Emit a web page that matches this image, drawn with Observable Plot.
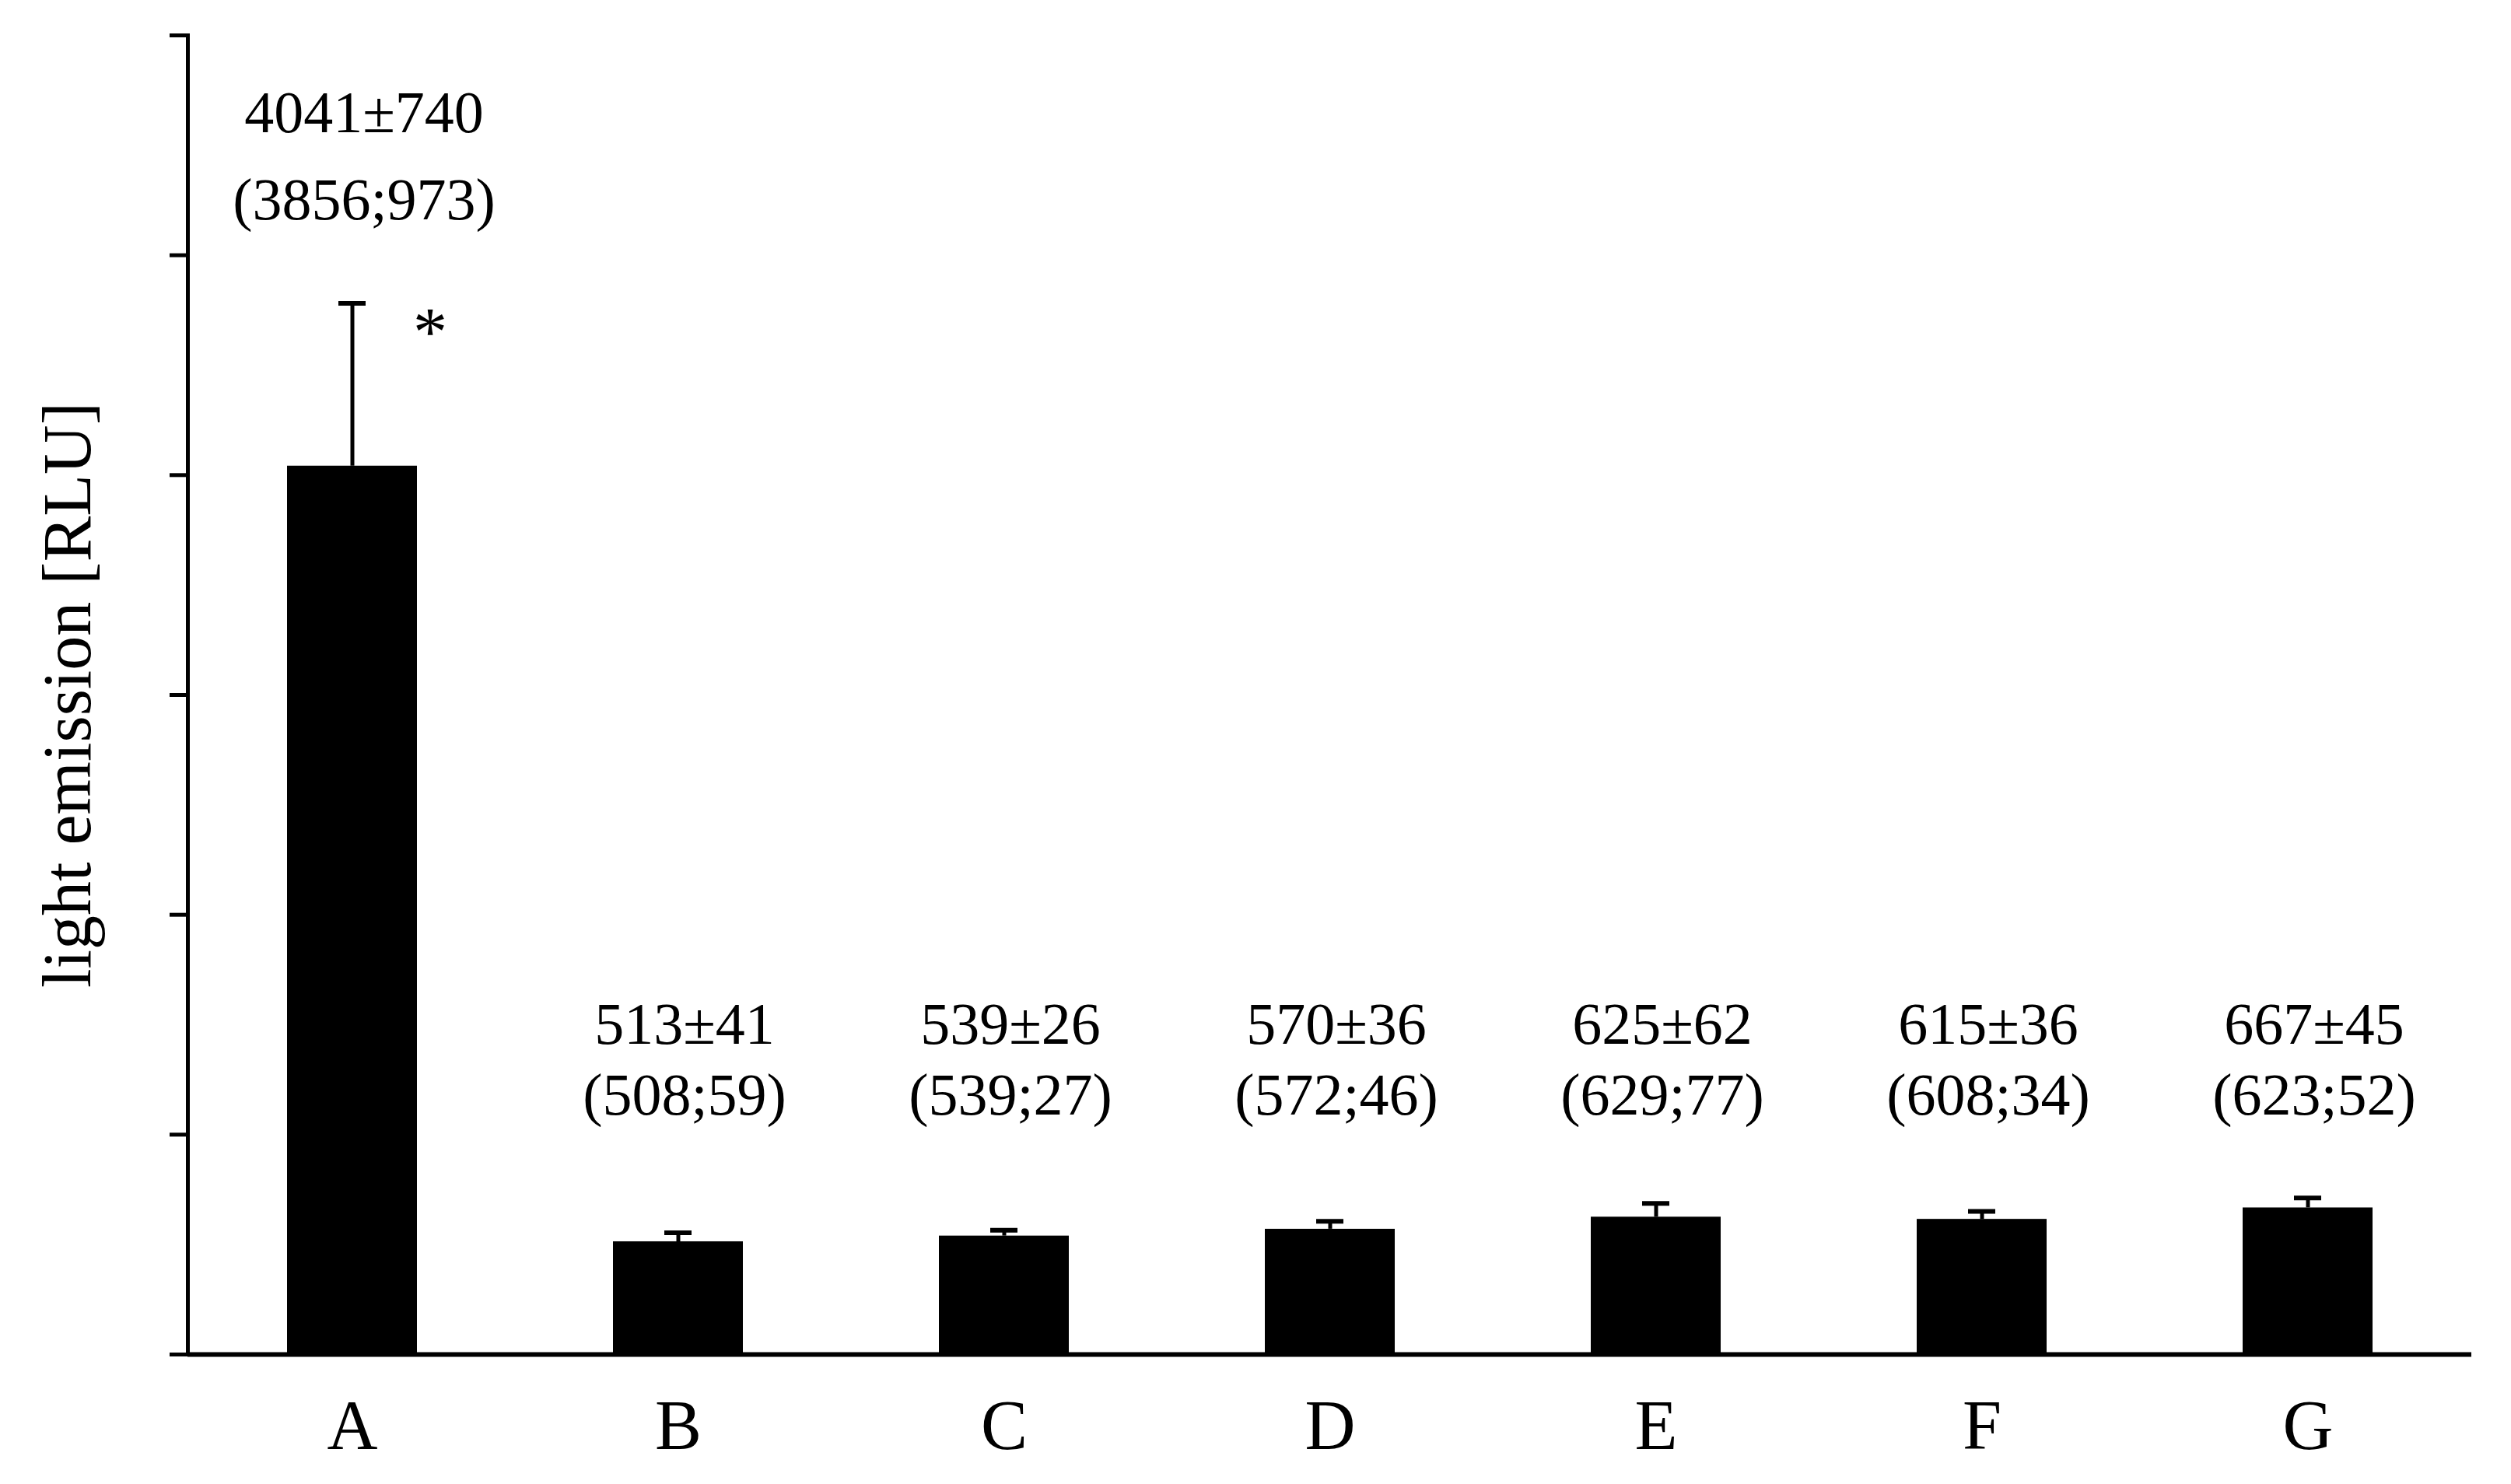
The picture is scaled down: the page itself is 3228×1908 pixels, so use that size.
<!DOCTYPE html>
<html>
<head>
<meta charset="utf-8">
<script src="https://cdn.jsdelivr.net/npm/d3@7"></script>
<script src="https://cdn.jsdelivr.net/npm/@observablehq/plot@0.6"></script>
<style>
  html, body { margin: 0; padding: 0; background: #fff; }
  #chart svg { display: block; }
</style>
</head>
<body>
<div id="chart"></div>
<script>
// ---- data ----
const categories = ["A", "B", "C", "D", "E", "F", "G"];
const means = [4041, 513, 539, 570, 625, 615, 667];
const sds = [740, 41, 26, 36, 62, 36, 45];
const medians = [3856, 508, 539, 572, 629, 608, 623];
const iqrs = [973, 59, 27, 46, 77, 34, 52];
const significance = ["*", "", "", "", "", "", ""];
const yTicks = [0, 1000, 2000, 3000, 4000, 5000, 6000];
const yLabel = "light emission [RLU]";

const rows = categories.map((c, i) => ({
  cat: c,
  mean: means[i],
  sd: sds[i],
  line1: `${means[i]}±${sds[i]}`,
  line2: `(${medians[i]};${iqrs[i]})`,
  sig: significance[i]
}));
const first = rows.slice(0, 1);
const rest = rows.slice(1);

const font = "'Liberation Serif', 'Times New Roman', Times, serif";
const annSize = 76;
const ann = { frameAnchor: "top", lineAnchor: "middle", textAnchor: "middle", fontSize: annSize, fill: "black" };

const chart = Plot.plot({
  width: 3228,
  height: 1908,
  marginLeft: 241,
  marginRight: 51,
  marginTop: 45,
  marginBottom: 167,
  style: { fontFamily: font, color: "black", background: "white" },
  x: { domain: categories, paddingInner: 0.602, paddingOuter: 0.301, label: null },
  y: { domain: [0, 6000], label: null },
  marks: [
    Plot.barY(rows, { x: "cat", y: "mean", fill: "black" }),
    Plot.ruleX(rows, { x: "cat", y1: "mean", y2: d => d.mean + d.sd, stroke: "black", strokeWidth: 5 }),
    Plot.tickY(rows, { x: "cat", y: d => d.mean + d.sd, stroke: "black", strokeWidth: 6, insetLeft: 66, insetRight: 66 }),
    Plot.frame({ anchor: "left", stroke: "black", strokeWidth: 5 }),
    Plot.ruleY([0], { stroke: "black", strokeWidth: 6 }),
    Plot.axisY({ ticks: yTicks, tickSize: 23, tickFormat: () => "", strokeWidth: 5, label: null }),
    Plot.axisX({ tickSize: 0, tickPadding: 58, fontSize: 90, label: null, fill: "black" }),
    // y axis title
    Plot.text([yLabel], { frameAnchor: "left", textAnchor: "middle", lineAnchor: "middle", rotate: -90, dx: -154, fontSize: 88, fill: "black" }),
    // annotations for A
    Plot.text(first, { ...ann, x: "cat", text: "line1", dy: 100, dx: 15 }),
    Plot.text(first, { ...ann, x: "cat", text: "line2", dy: 212, dx: 15 }),
    // annotations for B-G
    Plot.text(rest, { ...ann, x: "cat", text: "line1", dy: 1272, dx: 8 }),
    Plot.text(rest, { ...ann, x: "cat", text: "line2", dy: 1363, dx: 8 }),
    // significance marker
    Plot.text(rows.filter(d => d.sig), { x: "cat", y: d => d.mean + d.sd, text: "sig", dx: 100, dy: 38, fontSize: 88, fill: "black" })
  ]
});
document.getElementById("chart").appendChild(chart);
</script>
</body>
</html>
